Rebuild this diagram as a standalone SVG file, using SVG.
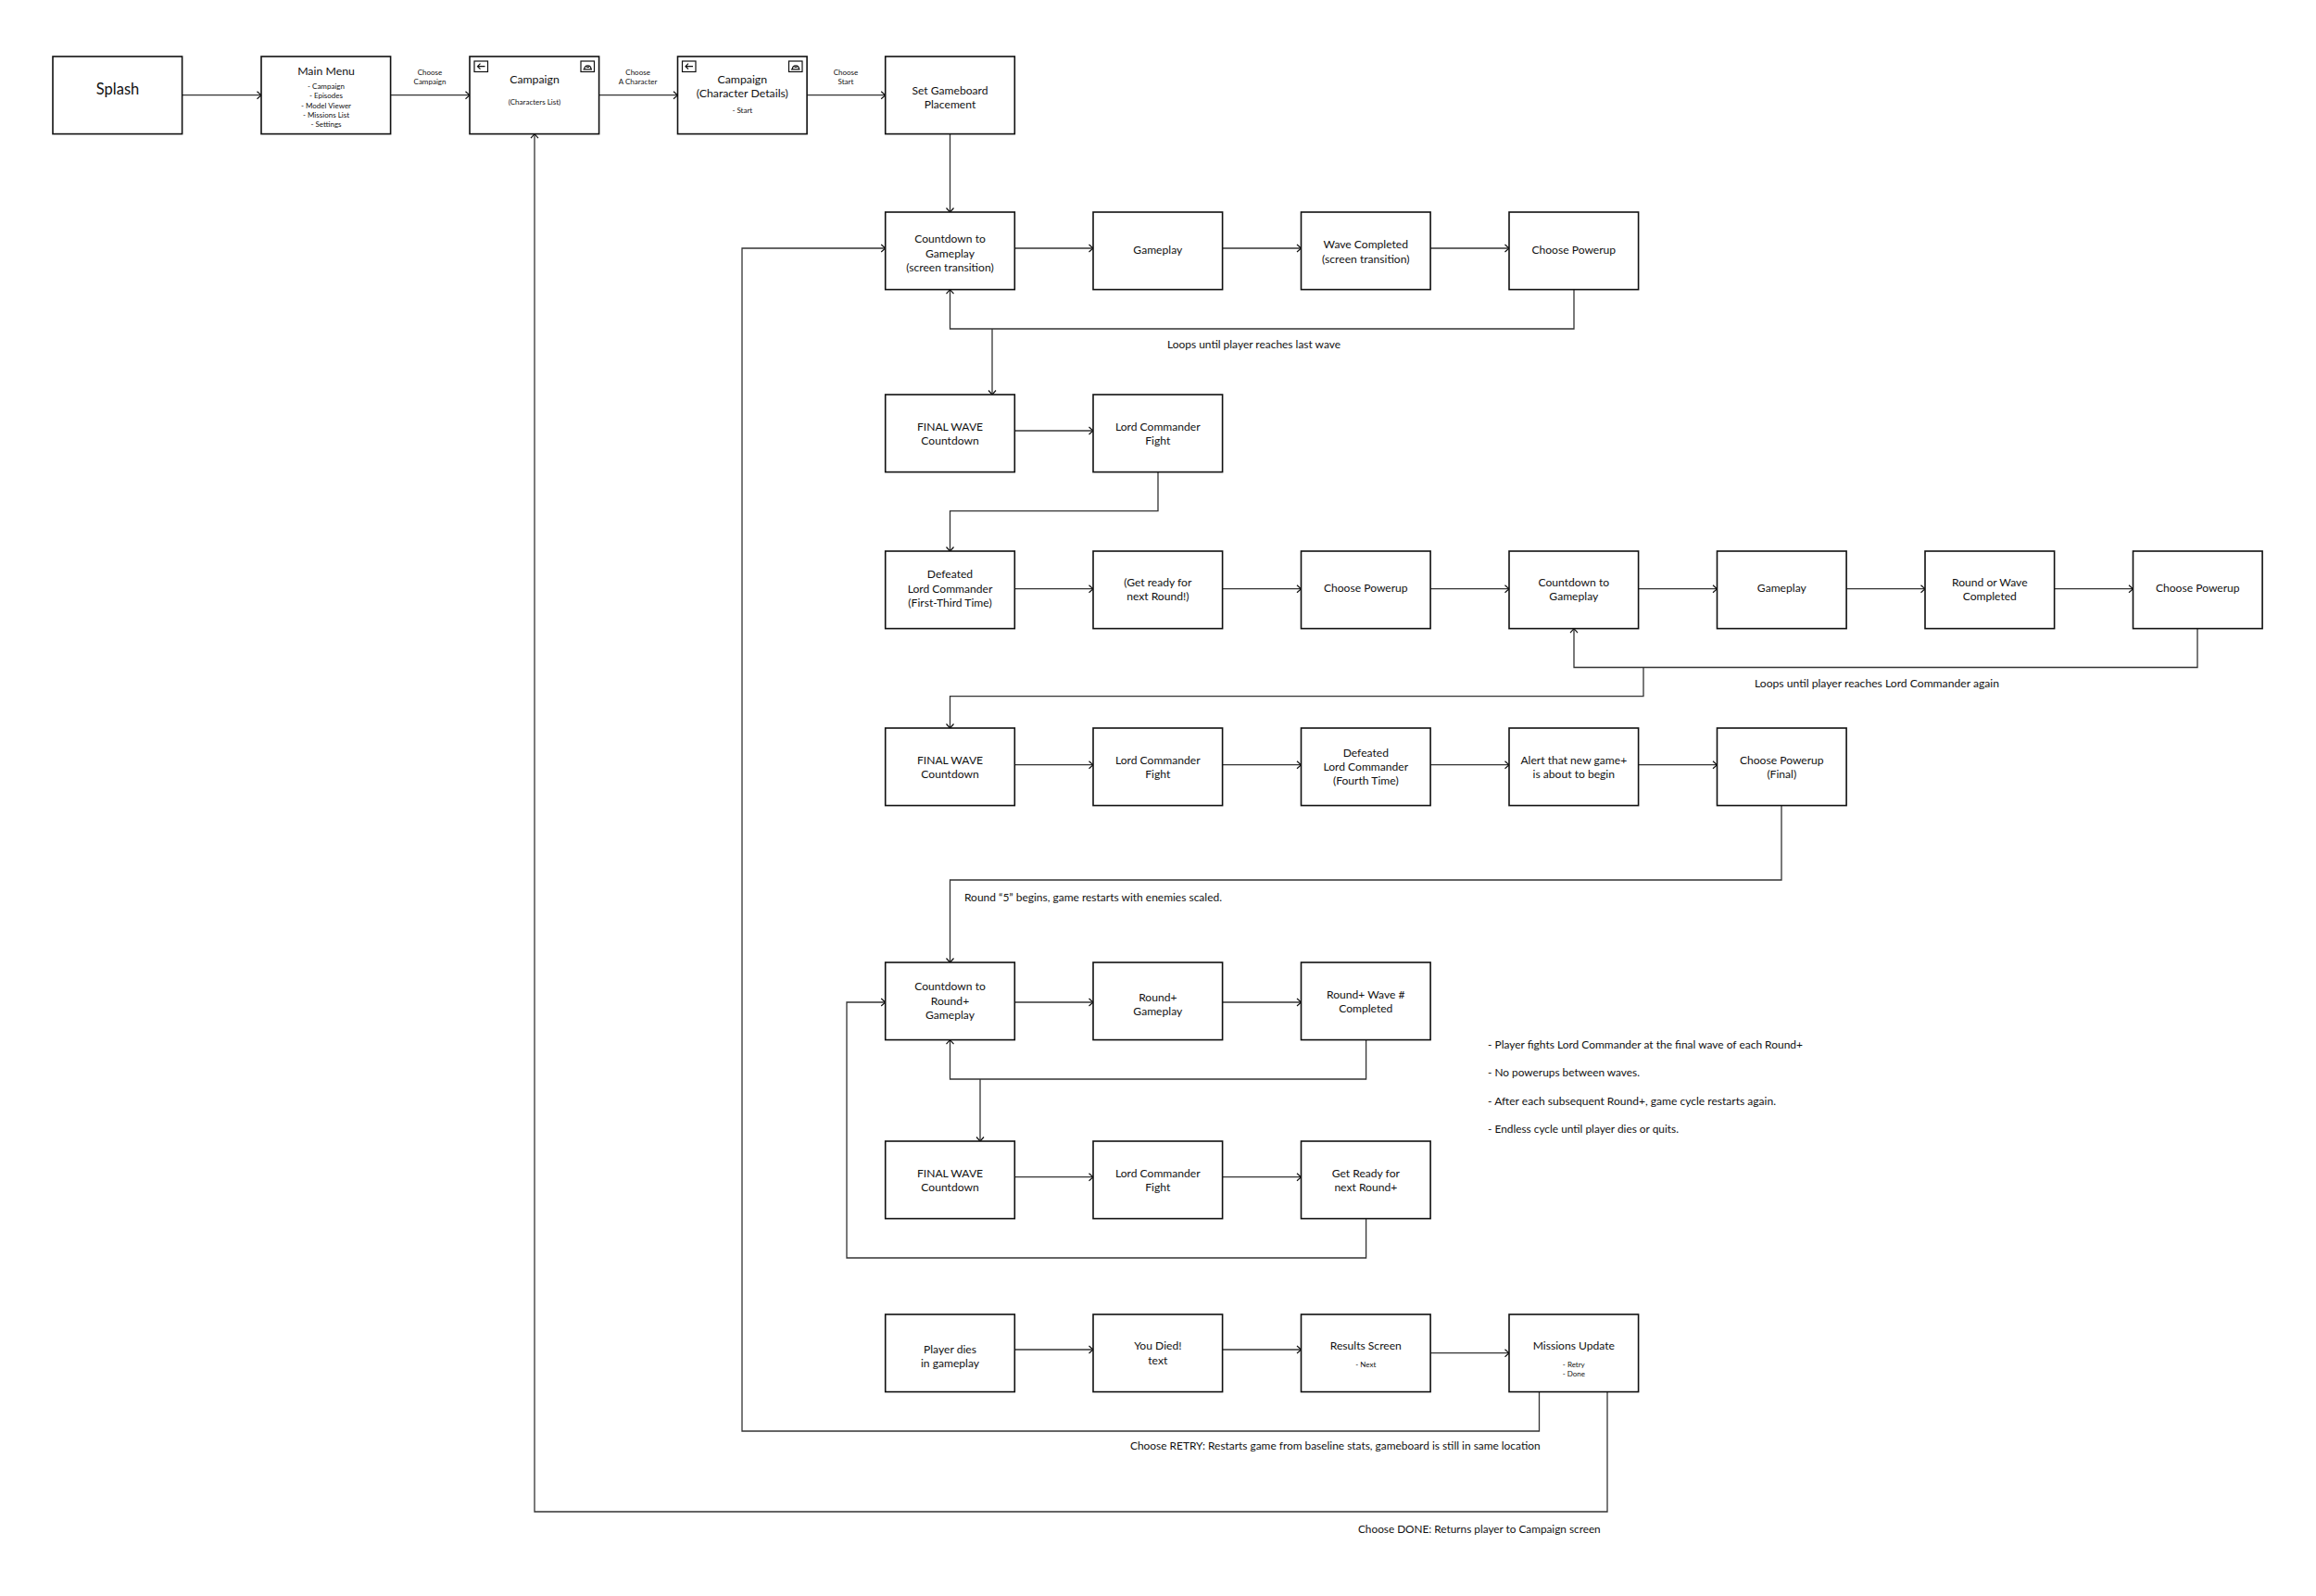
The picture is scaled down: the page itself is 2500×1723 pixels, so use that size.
<svg xmlns="http://www.w3.org/2000/svg" width="2500" height="1723" viewBox="0 0 2500 1723">
<style>
text{font-family:"Lato","Open Sans",sans-serif;fill:#111;font-size:12.1px;text-anchor:middle}
.b{fill:#fff;stroke:#111;stroke-width:1.6}
.s{font-size:8px}
.t{font-size:12.3px}
.n{text-anchor:start;font-size:12.2px}
.c{fill:none;stroke:#333;stroke-width:1.3}
.a{marker-end:url(#ah)}
.i{fill:none;stroke:#111;stroke-width:1.2}
</style>
<defs><marker id="ah" markerUnits="userSpaceOnUse" markerWidth="8" markerHeight="10" refX="6.5" refY="5" orient="auto"><path d="M2,1 L6.5,5 L2,9" fill="none" stroke="#111" stroke-width="1.2"/></marker></defs>
<rect width="2500" height="1723" fill="#fff"/>
<g id="connectors">
<path class="c a" d="M196.600,102.700H282"/><path class="c a" d="M421.600,102.700H507"/><path class="c a" d="M646.600,102.700H731.500"/><path class="c a" d="M871,102.700H955.700"/>
<path class="c a" d="M1025.500,144.600V229"/>
<path class="c a" d="M1095.300,268H1180"/><path class="c a" d="M1319.600,268H1404.500"/><path class="c a" d="M1544,268H1629"/>
<path class="c a" d="M1699,312.600V355H1025.500V312.600"/><path class="c a" d="M1071,355V426"/>
<path class="c a" d="M1095.300,465H1180"/><path class="c a" d="M1250,509.600V551.700H1025.500V595"/>
<path class="c a" d="M1095.300,635.700H1180"/><path class="c a" d="M1319.600,635.700H1404.500"/><path class="c a" d="M1544,635.700H1629"/><path class="c a" d="M1768.600,635.700H1853.500"/><path class="c a" d="M1993,635.700H2078"/><path class="c a" d="M2217.600,635.700H2302.500"/>
<path class="c a" d="M2372,678.600V720.500H1699V678.600"/><path class="c a" d="M1774,720.500V751.700H1025.500V786"/>
<path class="c a" d="M1095.300,825.700H1180"/><path class="c a" d="M1319.600,825.700H1404.500"/><path class="c a" d="M1544,825.700H1629"/><path class="c a" d="M1768.600,825.700H1853.500"/>
<path class="c a" d="M1923,869.600V950H1025.500V1039"/>
<path class="c a" d="M1095.300,1082H1180"/><path class="c a" d="M1319.600,1082H1404.500"/>
<path class="c a" d="M1474.600,1122.600V1165H1025.500V1122.600"/><path class="c a" d="M1058,1165V1232"/>
<path class="c a" d="M1095.300,1270.700H1180"/><path class="c a" d="M1319.600,1270.700H1404.500"/>
<path class="c a" d="M1474.600,1315.600V1358H914V1082H955.700"/>
<path class="c a" d="M1095.300,1457H1180"/><path class="c a" d="M1319.600,1457H1404.500"/><path class="c a" d="M1544,1460.700H1629"/>
<path class="c a" d="M1661.500,1502.600V1545H801V268H955.700"/>
<path class="c a" d="M1735,1502.600V1632H577V144.600"/>
</g>
<g id="node-splash"><rect class="b" x="57" y="61" width="139.600" height="83.600"/><text x="127" y="102" style="font-size:16.500px">Splash</text></g>
<g id="node-main-menu"><rect class="b" x="282" y="61" width="139.600" height="83.600"/><text class="t" x="352" y="80.500">Main Menu</text><text class="s" x="352" y="95.500">- Campaign</text><text class="s" x="352" y="106">- Episodes</text><text class="s" x="352" y="116.500">- Model Viewer</text><text class="s" x="352" y="126.500">- Missions List</text><text class="s" x="352" y="137">- Settings</text></g>
<g id="node-campaign"><rect class="b" x="507" y="61" width="139.600" height="83.600"/><text class="t" x="577" y="89.500">Campaign</text><text class="s" x="577" y="113">(Characters List)</text>
<rect class="i" x="512" y="66" width="14.500" height="11.500"/><path class="i" d="M523.500,71.700H515.500M518.500,68.700L515.500,71.700L518.500,74.700"/><rect class="i" x="627" y="66" width="14.500" height="11.500"/><path class="i" d="M629.500,74.800H639M630.800,74.800C631,69.500 638,69.500 638,74.800M633,72.500H636"/></g>
<g id="node-campaign-details"><rect class="b" x="731.500" y="61" width="139.600" height="83.600"/><text class="t" x="801.300" y="89.500">Campaign</text><text class="t" x="801.300" y="104.500">(Character Details)</text><text class="s" x="801.300" y="122">- Start</text>
<rect class="i" x="736.500" y="66" width="14.500" height="11.500"/><path class="i" d="M748,71.700H740M743,68.700L740,71.700L743,74.700"/><rect class="i" x="851.500" y="66" width="14.500" height="11.500"/><path class="i" d="M854,74.800H863.500M855.300,74.800C855.500,69.500 862.500,69.500 862.500,74.800M857.500,72.500H860.500"/></g>
<g id="node-set-gameboard"><rect class="b" x="955.700" y="61" width="139.600" height="83.600"/><text x="1025.500" y="101.500">Set Gameboard</text><text x="1025.500" y="117">Placement</text></g>
<g id="labels-top"><text class="s" x="464" y="80.500">Choose</text><text class="s" x="464" y="90.500">Campaign</text><text class="s" x="688.600" y="80.500">Choose</text><text class="s" x="688.600" y="90.500">A Character</text><text class="s" x="913" y="80.500">Choose</text><text class="s" x="913" y="90.500">Start</text></g>

<g id="node-r1-1"><rect class="b" x="955.700" y="229" width="139.600" height="83.600"/><text x="1025.500" y="262">Countdown to</text><text x="1025.500" y="277.600">Gameplay</text><text x="1025.500" y="292.700">(screen transition)</text></g>
<g id="node-r1-2"><rect class="b" x="1180" y="229" width="139.600" height="83.600"/><text x="1249.800" y="274">Gameplay</text></g>
<g id="node-r1-3"><rect class="b" x="1404.500" y="229" width="139.600" height="83.600"/><text x="1474.300" y="268">Wave Completed</text><text x="1474.300" y="283.600">(screen transition)</text></g>
<g id="node-r1-4"><rect class="b" x="1629" y="229" width="139.600" height="83.600"/><text x="1698.800" y="274">Choose Powerup</text></g>

<g id="node-r2-1"><rect class="b" x="955.700" y="426" width="139.600" height="83.600"/><text x="1025.500" y="464.500">FINAL WAVE</text><text x="1025.500" y="480">Countdown</text></g>
<g id="node-r2-2"><rect class="b" x="1180" y="426" width="139.600" height="83.600"/><text x="1249.800" y="464.500">Lord Commander</text><text x="1249.800" y="480">Fight</text></g>

<g id="node-r3-1"><rect class="b" x="955.700" y="595" width="139.600" height="83.600"/><text x="1025.500" y="624">Defeated</text><text x="1025.500" y="639.500">Lord Commander</text><text x="1025.500" y="654.500">(First-Third Time)</text></g>
<g id="node-r3-2"><rect class="b" x="1180" y="595" width="139.600" height="83.600"/><text x="1249.800" y="633">(Get ready for</text><text x="1249.800" y="648.300">next Round!)</text></g>
<g id="node-r3-3"><rect class="b" x="1404.500" y="595" width="139.600" height="83.600"/><text x="1474.300" y="639">Choose Powerup</text></g>
<g id="node-r3-4"><rect class="b" x="1629" y="595" width="139.600" height="83.600"/><text x="1698.800" y="633">Countdown to</text><text x="1698.800" y="648.300">Gameplay</text></g>
<g id="node-r3-5"><rect class="b" x="1853.500" y="595" width="139.600" height="83.600"/><text x="1923.300" y="639">Gameplay</text></g>
<g id="node-r3-6"><rect class="b" x="2078" y="595" width="139.600" height="83.600"/><text x="2147.800" y="633">Round or Wave</text><text x="2147.800" y="648.300">Completed</text></g>
<g id="node-r3-7"><rect class="b" x="2302.500" y="595" width="139.600" height="83.600"/><text x="2372.300" y="639">Choose Powerup</text></g>

<g id="node-r4-1"><rect class="b" x="955.700" y="786" width="139.600" height="83.600"/><text x="1025.500" y="824.700">FINAL WAVE</text><text x="1025.500" y="840">Countdown</text></g>
<g id="node-r4-2"><rect class="b" x="1180" y="786" width="139.600" height="83.600"/><text x="1249.800" y="824.700">Lord Commander</text><text x="1249.800" y="840">Fight</text></g>
<g id="node-r4-3"><rect class="b" x="1404.500" y="786" width="139.600" height="83.600"/><text x="1474.300" y="816.700">Defeated</text><text x="1474.300" y="832">Lord Commander</text><text x="1474.300" y="847">(Fourth Time)</text></g>
<g id="node-r4-4"><rect class="b" x="1629" y="786" width="139.600" height="83.600"/><text x="1698.800" y="825">Alert that new game+</text><text x="1698.800" y="840">is about to begin</text></g>
<g id="node-r4-5"><rect class="b" x="1853.500" y="786" width="139.600" height="83.600"/><text x="1923.300" y="825">Choose Powerup</text><text x="1923.300" y="840">(Final)</text></g>

<g id="node-r5-1"><rect class="b" x="955.700" y="1039" width="139.600" height="83.600"/><text x="1025.500" y="1069">Countdown to</text><text x="1025.500" y="1084.500">Round+</text><text x="1025.500" y="1100">Gameplay</text></g>
<g id="node-r5-2"><rect class="b" x="1180" y="1039" width="139.600" height="83.600"/><text x="1249.800" y="1080.500">Round+</text><text x="1249.800" y="1096">Gameplay</text></g>
<g id="node-r5-3"><rect class="b" x="1404.500" y="1039" width="139.600" height="83.600"/><text x="1474.300" y="1078">Round+ Wave #</text><text x="1474.300" y="1093.300">Completed</text></g>

<g id="node-r6-1"><rect class="b" x="955.700" y="1232" width="139.600" height="83.600"/><text x="1025.500" y="1270.700">FINAL WAVE</text><text x="1025.500" y="1286">Countdown</text></g>
<g id="node-r6-2"><rect class="b" x="1180" y="1232" width="139.600" height="83.600"/><text x="1249.800" y="1270.700">Lord Commander</text><text x="1249.800" y="1286">Fight</text></g>
<g id="node-r6-3"><rect class="b" x="1404.500" y="1232" width="139.600" height="83.600"/><text x="1474.300" y="1270.700">Get Ready for</text><text x="1474.300" y="1286">next Round+</text></g>

<g id="node-r7-1"><rect class="b" x="955.700" y="1419" width="139.600" height="83.600"/><text x="1025.500" y="1460.700">Player dies</text><text x="1025.500" y="1476">in gameplay</text></g>
<g id="node-r7-2"><rect class="b" x="1180" y="1419" width="139.600" height="83.600"/><text x="1249.800" y="1457.300">You Died!</text><text x="1249.800" y="1473">text</text></g>
<g id="node-r7-3"><rect class="b" x="1404.500" y="1419" width="139.600" height="83.600"/><text x="1474.300" y="1457.300">Results Screen</text><text class="s" x="1474.300" y="1476">- Next</text></g>
<g id="node-r7-4"><rect class="b" x="1629" y="1419" width="139.600" height="83.600"/><text x="1698.800" y="1457.300">Missions Update</text><text class="s" x="1698.800" y="1476">- Retry</text><text class="s" x="1698.800" y="1486">- Done</text></g>

<g id="annotations">
<text class="n" x="1260" y="376" textLength="187" lengthAdjust="spacingAndGlyphs">Loops until player reaches last wave</text>
<text class="n" x="1894" y="742" textLength="264" lengthAdjust="spacingAndGlyphs">Loops until player reaches Lord Commander again</text>
<text class="n" x="1041" y="973" textLength="278" lengthAdjust="spacingAndGlyphs">Round “5” begins, game restarts with enemies scaled.</text>
<text class="n" x="1220" y="1565" textLength="442.600" lengthAdjust="spacingAndGlyphs">Choose RETRY: Restarts game from baseline stats, gameboard is still in same location</text>
<text class="n" x="1466" y="1655" textLength="261.700" lengthAdjust="spacingAndGlyphs">Choose DONE: Returns player to Campaign screen</text>
<text class="n" x="1606" y="1132" textLength="340" lengthAdjust="spacingAndGlyphs">- Player fights Lord Commander at the final wave of each Round+</text>
<text class="n" x="1606" y="1162" textLength="164" lengthAdjust="spacingAndGlyphs">- No powerups between waves.</text>
<text class="n" x="1606" y="1192.500" textLength="311" lengthAdjust="spacingAndGlyphs">- After each subsequent Round+, game cycle restarts again.</text>
<text class="n" x="1606" y="1223" textLength="206" lengthAdjust="spacingAndGlyphs">- Endless cycle until player dies or quits.</text>
</g>
</svg>
